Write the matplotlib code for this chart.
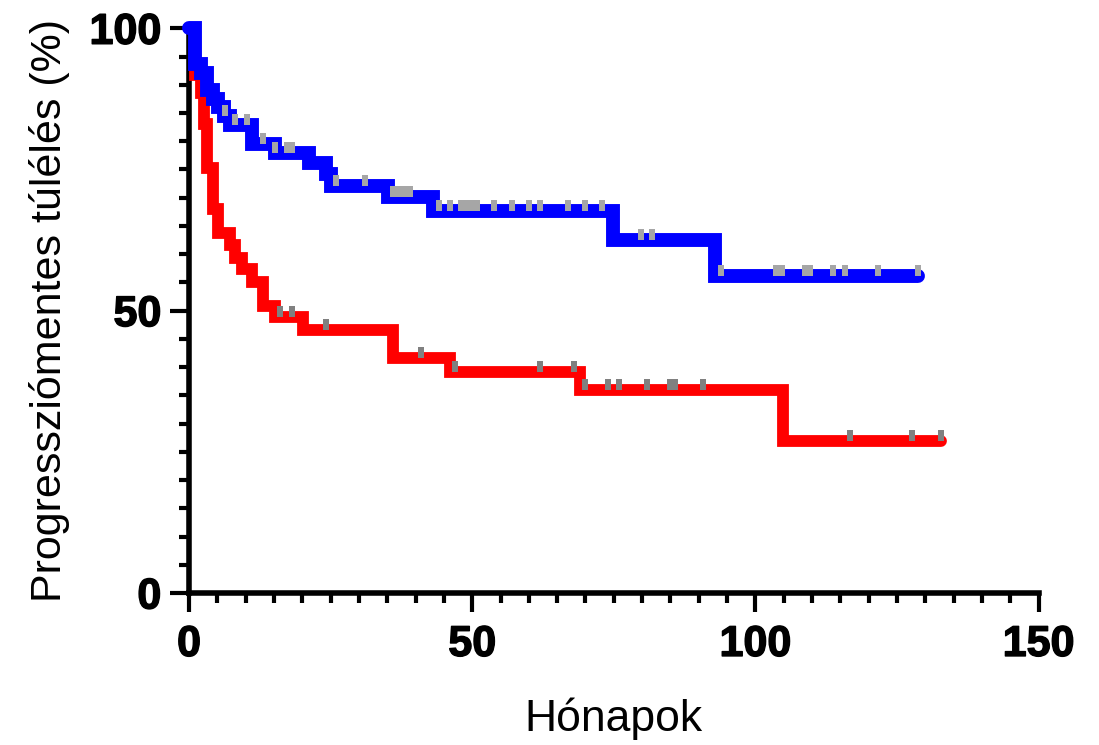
"""
Kaplan-Meier style progression-free survival chart, two groups
"""
import numpy as np
import matplotlib
matplotlib.use("Agg")
import matplotlib.pyplot as plt
import matplotlib.patheffects as pe
from matplotlib.path import Path
from matplotlib.ticker import MultipleLocator

# blue group: step times (months) and survival (%) after each step
blue_times = [0, 1.1, 2.2, 3.2, 4.2, 5.2, 6.2, 7.2, 11.1, 15.1, 21.2, 24.1,
              25.1, 35.1, 43.0, 74.9, 92.9]
blue_surv = [100, 93.7, 92.0, 89.0, 87.5, 86.0, 84.4, 82.8, 79.6, 78.0, 76.1,
             74.2, 72.1, 70.1, 67.6, 62.5, 56.2]
blue_censored = [6.3, 8.1, 10.2, 13.1, 15.2, 17.3, 18.2, 26.0, 31.0, 36.0,
                 37.0, 38.0, 39.0, 44.1, 46.0, 48.1, 48.9, 49.8, 50.8, 53.9,
                 57.1, 60.0, 61.9, 67.0, 69.9, 72.9, 79.8, 81.8, 93.9, 103.6,
                 104.7, 108.7, 109.6, 113.7, 115.8, 121.7, 128.7]

# red group
red_times = [0, 1.1, 2.1, 2.6, 3.1, 4.2, 5.2, 7.2, 8.2, 9.3, 11.1, 13.1,
             15.1, 20.1, 36.0, 46.1, 69.0, 104.9]
red_surv = [100, 91.7, 88.6, 83.0, 75.2, 68.0, 63.7, 61.6, 59.4, 57.3, 55.1,
            50.9, 48.9, 46.6, 41.7, 39.1, 35.9, 26.9]
red_censored = [16.0, 18.1, 24.1, 41.0, 47.0, 61.9, 67.9, 69.9, 73.9, 76.0,
                80.9, 84.9, 85.8, 90.8, 116.7, 127.7, 132.7]

x_ticks = [0, 50, 100, 150]
y_ticks = [0, 50, 100]


def level_at(times, surv, t):
    i = np.searchsorted(times, t, side="right") - 1
    return surv[i]


def draw_group(ax, times, surv, censored, color, lw, cens_color, z):
    end = censored[-1]
    xs = list(times) + [end]
    ys = list(surv) + [surv[-1]]
    ax.plot(xs, ys, drawstyle="steps-post", color=color, lw=lw,
            solid_capstyle="round", solid_joinstyle="miter",
            clip_on=False, zorder=z)
    # censor ticks sit on top of the line, going upward
    tick = Path([(-0.23, 0), (0.23, 0), (0.23, 1), (-0.23, 1), (-0.23, 0)],
                [Path.MOVETO, Path.LINETO, Path.LINETO, Path.LINETO,
                 Path.CLOSEPOLY])
    cy = [level_at(times, surv, c) for c in censored]
    ax.plot(censored, cy, ls="none", marker=tick, ms=16, mew=0,
            mfc=cens_color, clip_on=False, zorder=z + 5)


def main():
    plt.rcParams["font.family"] = ["Liberation Sans", "DejaVu Sans"]

    fig = plt.figure(figsize=(10.99, 7.45), dpi=100)
    ax = fig.add_axes([0.172, 0.204, 0.773, 0.758])

    draw_group(ax, red_times, red_surv, red_censored, "#FF0000", 8.5,
               "#808080", 3)
    draw_group(ax, blue_times, blue_surv, blue_censored, "#0000FF", 10,
               "#A6A6A6", 4)

    ax.set_xlim(0, 150)
    ax.set_ylim(0, 100)
    ax.set_xticks(x_ticks)
    ax.set_yticks(y_ticks)
    ax.xaxis.set_minor_locator(MultipleLocator(5))
    ax.yaxis.set_minor_locator(MultipleLocator(5))

    for s in ["top", "right"]:
        ax.spines[s].set_visible(False)
    for s in ["left", "bottom"]:
        ax.spines[s].set_linewidth(4)

    ax.tick_params(which="major", length=14, width=3, pad=6)
    ax.tick_params(axis="x", which="major", pad=9)
    ax.tick_params(which="minor", length=7.5, width=3)
    bold = [pe.withStroke(linewidth=1.0, foreground="black")]
    for lab in ax.get_xticklabels() + ax.get_yticklabels():
        lab.set_fontsize(31)
        lab.set_fontweight("bold")
        lab.set_path_effects(bold)

    ax.set_xlabel("Hónapok", fontsize=32)
    ax.set_ylabel("Progressziómentes túlélés (%)", fontsize=31)
    ax.xaxis.set_label_coords(0.5, -0.185)
    ax.yaxis.set_label_coords(-0.14, 0.5)

    fig.savefig("out.png", dpi=100)


if __name__ == "__main__":
    main()
